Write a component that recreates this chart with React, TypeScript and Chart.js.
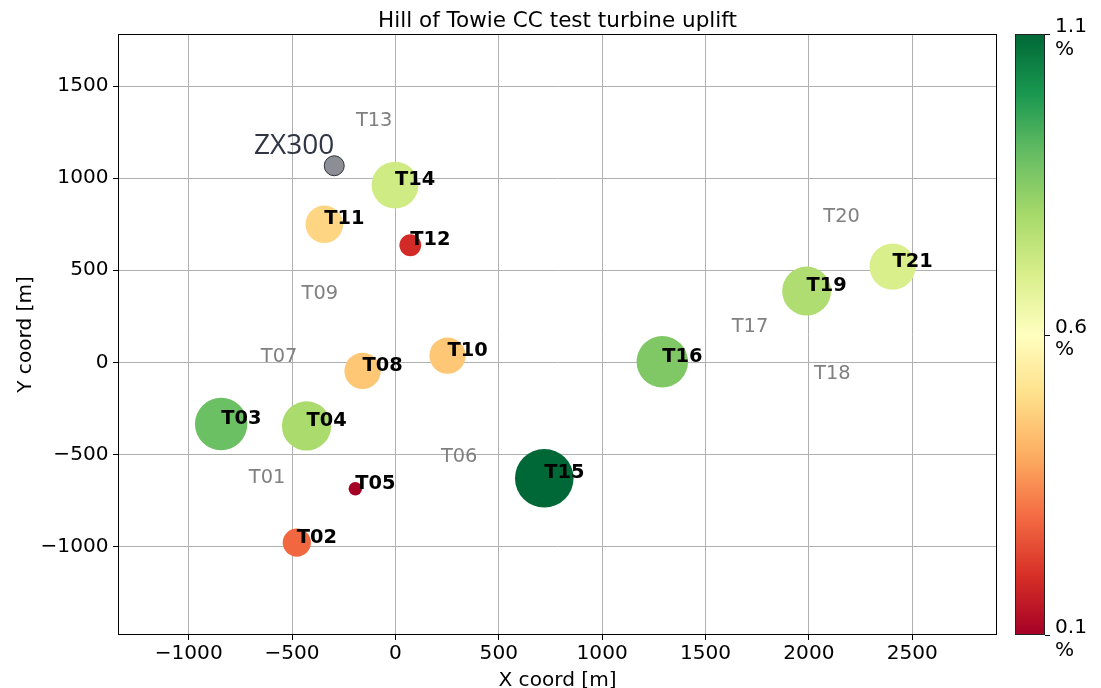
import React, { useEffect, useRef } from 'react';
import { Chart, registerables } from 'chart.js';

Chart.register(...registerables);

const FONT = "'DejaVu Sans', sans-serif";
const TITLE = 'Hill of Towie CC test turbine uplift';
const X_LABEL = 'X coord [m]';
const Y_LABEL = 'Y coord [m]';

// Tested turbines (coloured bubbles)
const testNames = ['T02', 'T03', 'T04', 'T05', 'T08', 'T10', 'T11', 'T12', 'T14', 'T15', 'T16', 'T19', 'T21'];
const testX = [-477, -843, -430, -194, -159, 252, -344, 72, -2, 720, 1291, 1989, 2405];
const testY = [-980, -335, -346, -687, -47, 36, 750, 636, 963, -630, 3, 387, 520];
const testUplift = [0.29, 0.89, 0.79, 0.1, 0.45, 0.45, 0.48, 0.19, 0.72, 1.1, 0.86, 0.78, 0.7];

// Other turbines (grey labels only)
const otherNames = ['T01', 'T06', 'T07', 'T09', 'T13', 'T17', 'T18', 'T20'];
const otherX = [-709, 220, -651, -454, -191, 1627, 2025, 2070];
const otherY = [-656, -540, 2, 344, 1284, 163, -92, 764];

// Lidar
const lidarName = 'ZX300';
const lidarX = [-296];
const lidarY = [1068];

// Axes
const xTicks = [-1000, -500, 0, 500, 1000, 1500, 2000, 2500];
const yTicks = [-1000, -500, 0, 500, 1000, 1500];
const xMin = -1342;
const xMax = 2910;
const yMin = -1482;
const yMax = 1784;

// Colour bar
const cbMin = 0.1;
const cbMax = 1.1;
const cbTicks = [0.1, 0.6, 1.1];

const RDYLGN = [
  '#a50026', '#d73027', '#f46d43', '#fdae61', '#fee08b', '#ffffbf',
  '#d9ef8b', '#a6d96a', '#66bd63', '#1a9850', '#006837',
];

const TITLE_FS = 21.5;
const AX_FS = 20.1;
const LBL_FS = 19.4;

function hexToRgb(h: string) {
  return [parseInt(h.slice(1, 3), 16), parseInt(h.slice(3, 5), 16), parseInt(h.slice(5, 7), 16)];
}

function cmap(v: number) {
  let t = (v - cbMin) / (cbMax - cbMin);
  t = Math.max(0, Math.min(1, t));
  const pos = t * (RDYLGN.length - 1);
  const i = Math.min(RDYLGN.length - 2, Math.floor(pos));
  const f = pos - i;
  const a = hexToRgb(RDYLGN[i]);
  const b = hexToRgb(RDYLGN[i + 1]);
  const c = a.map((ai, k) => Math.round(ai + (b[k] - ai) * f));
  return `rgb(${c[0]},${c[1]},${c[2]})`;
}

function markerRadius(v: number) {
  return Math.sqrt(Math.max(20, 813 * v - 36));
}

const fmt = (v: number) => (v < 0 ? '\u2212' + Math.abs(v) : String(v));

const decorPlugin = {
  id: 'decor',
  afterDraw(chart: any) {
    const { ctx, chartArea } = chart;
    const xs = chart.scales.x;
    const ys = chart.scales.y;
    const { left, right, top, bottom } = chartArea;
    ctx.save();

    // frame
    ctx.strokeStyle = '#000';
    ctx.lineWidth = 1;
    ctx.strokeRect(left + 0.5, top + 0.5, right - left - 1, bottom - top - 1);

    // title and axis titles
    ctx.fillStyle = '#000';
    ctx.textAlign = 'center';
    ctx.textBaseline = 'alphabetic';
    ctx.font = `${TITLE_FS}px ${FONT}`;
    ctx.fillText(TITLE, (left + right) / 2, 26.5);
    ctx.font = `${AX_FS}px ${FONT}`;
    ctx.fillText(X_LABEL, (left + right) / 2, 685.5);
    ctx.save();
    ctx.translate(30.5, (top + bottom) / 2);
    ctx.rotate(-Math.PI / 2);
    ctx.fillText(Y_LABEL, 0, 0);
    ctx.restore();

    // other turbine labels
    ctx.textAlign = 'left';
    ctx.fillStyle = 'gray';
    ctx.font = `${LBL_FS}px ${FONT}`;
    otherNames.forEach((n, i) => {
      ctx.fillText(n, xs.getPixelForValue(otherX[i]), ys.getPixelForValue(otherY[i]));
    });

    // test turbine labels
    ctx.fillStyle = '#000';
    ctx.font = `bold ${LBL_FS}px ${FONT}`;
    testNames.forEach((n, i) => {
      ctx.fillText(n, xs.getPixelForValue(testX[i]), ys.getPixelForValue(testY[i]));
    });

    // lidar label
    ctx.fillStyle = '#2f3542';
    ctx.font = `28px 'Open Sans', ${FONT}`;
    ctx.textAlign = 'right';
    ctx.fillText(lidarName, xs.getPixelForValue(lidarX[0]), ys.getPixelForValue(lidarY[0]) - 12);

    // colour bar
    const cbL = right + 18;
    const cbW = 30;
    const grad = ctx.createLinearGradient(0, bottom, 0, top);
    RDYLGN.forEach((c, i) => grad.addColorStop(i / (RDYLGN.length - 1), c));
    ctx.fillStyle = grad;
    ctx.fillRect(cbL, top, cbW, bottom - top);
    ctx.strokeStyle = '#222';
    ctx.lineWidth = 1;
    ctx.strokeRect(cbL + 0.5, top + 0.5, cbW - 1, bottom - top - 1);
    ctx.fillStyle = '#000';
    ctx.font = `${AX_FS}px ${FONT}`;
    ctx.textAlign = 'left';
    cbTicks.forEach((v) => {
      const y = bottom - ((v - cbMin) / (cbMax - cbMin)) * (bottom - top);
      ctx.beginPath();
      ctx.moveTo(cbL + cbW, Math.round(y) + 0.5);
      ctx.lineTo(cbL + cbW + 5, Math.round(y) + 0.5);
      ctx.strokeStyle = '#000';
      ctx.stroke();
      ctx.fillText(String(v), cbL + cbW + 10, y - 2);
      ctx.fillText('%', cbL + cbW + 10, y + 20.5);
    });

    ctx.restore();
  },
};

export default function App() {
  const ref = useRef<HTMLCanvasElement>(null);
  useEffect(() => {
    const testData = testNames.map((_, i) => ({ x: testX[i], y: testY[i], r: markerRadius(testUplift[i]) }));
    const lidarData = lidarX.map((x, i) => ({ x, y: lidarY[i], r: 10 }));
    const chart = new Chart(ref.current as HTMLCanvasElement, {
      type: 'bubble',
      data: {
        datasets: [
          {
            label: 'Test turbines',
            data: testData,
            backgroundColor: testUplift.map((v) => cmap(v)),
            borderWidth: 0,
          },
          {
            label: lidarName,
            data: lidarData,
            backgroundColor: '#8b8e94',
            borderColor: '#2c3037',
            borderWidth: 1,
          },
        ],
      },
      options: {
        animation: false,
        responsive: true,
        maintainAspectRatio: false,
        layout: { padding: { top: 34, left: 0, right: 104, bottom: 0 } },
        plugins: { legend: { display: false }, tooltip: { enabled: false }, title: { display: false } },
        scales: {
          x: {
            type: 'linear',
            min: xMin,
            max: xMax,
            z: 1,
            afterBuildTicks: (s: any) => {
              s.ticks = xTicks.map((v) => ({ value: v }));
            },
            afterFit: (s: any) => {
              s.height = 53;
            },
            border: { display: false },
            grid: { color: '#b0b0b0', lineWidth: 1, drawTicks: true, tickLength: 5, tickColor: '#000', tickWidth: 1 },
            ticks: {
              font: { family: FONT, size: AX_FS },
              color: '#000',
              padding: 1.8,
              maxRotation: 0,
              callback: (v: any) => fmt(Number(v)),
            },
          },
          y: {
            type: 'linear',
            min: yMin,
            max: yMax,
            z: 1,
            afterBuildTicks: (s: any) => {
              s.ticks = yTicks.map((v) => ({ value: v }));
            },
            afterFit: (s: any) => {
              s.width = 118;
            },
            border: { display: false },
            grid: { color: '#b0b0b0', lineWidth: 1, drawTicks: true, tickLength: 5, tickColor: '#000', tickWidth: 1 },
            ticks: {
              font: { family: FONT, size: AX_FS },
              color: '#000',
              padding: 4.5,
              callback: (v: any) => fmt(Number(v)),
            },
          },
        },
      },
      plugins: [decorPlugin],
    });
    return () => chart.destroy();
  }, []);
  return (
    <div style={{ position: 'fixed', left: 0, top: 0, width: 1101, height: 688, background: '#fff' }}>
      <canvas ref={ref} />
    </div>
  );
}
